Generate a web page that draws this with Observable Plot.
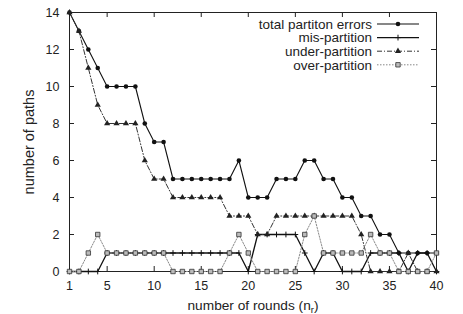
<!DOCTYPE html>
<html><head><meta charset="utf-8">
<script src="https://cdn.jsdelivr.net/npm/d3@7"></script>
<script src="https://cdn.jsdelivr.net/npm/@observablehq/plot@0.6"></script>
<style>body{margin:0;background:#fff}</style>
</head><body><div id="chart"></div>
<script>
const rounds = [1,2,3,4,5,6,7,8,9,10,11,12,13,14,15,16,17,18,19,20,21,22,23,24,25,26,27,28,29,30,31,32,33,34,35,36,37,38,39,40];
const totalErrors = [14,13,12,11,10,10,10,10,8,7,7,5,5,5,5,5,5,5,6,4,4,4,5,5,5,6,6,5,5,4,4,3,3,2,2,1,1,1,1,1];
const misPartition = [0,0,0,0,1,1,1,1,1,1,1,1,1,1,1,1,1,1,1,0,2,2,2,2,2,1,0,1,1,0,0,0,1,1,1,1,0,1,1,0];
const underPartition = [14,13,11,9,8,8,8,8,6,5,5,4,4,4,4,4,4,3,3,3,2,2,3,3,3,3,3,3,3,3,3,2,0,0,0,0,1,0,0,0];
const overPartition = [0,0,1,2,1,1,1,1,1,1,1,0,0,0,0,0,0,1,2,1,0,0,0,0,0,2,3,1,1,1,1,1,2,1,1,0,0,0,0,1];
const seriesNames = ["total partiton errors","mis-partition","under-partition","over-partition"];
const xTickValues = [5,10,15,20,25,30,35,40];
const xTickLabels = [1,5,10,15,20,25,30,35,40];
const yTickValues = [0,2,4,6,8,10,12,14];

const styles = [
  {stroke:"#111", dash:null, width:1.1, symbol:"circle", r:2.3, fill:"#111", mstroke:"none"},
  {stroke:"#111", dash:null, width:1.3, symbol:"plus", r:2.0, fill:"none", mstroke:"#111"},
  {stroke:"#333", dash:"5,2,1,2", width:1, symbol:"triangle", r:2.3, fill:"#222", mstroke:"none"},
  {stroke:"#888", dash:"1.5,1.5", width:1, symbol:"square", r:2.5, fill:"#bbb", mstroke:"#333"}
];
const seriesValues = [totalErrors, misPartition, underPartition, overPartition];
const tables = seriesValues.map((vals, s) => rounds.map((r, i) => ({round: r, value: vals[i], series: seriesNames[s]})));

const W = 463, H = 314, mL = 69, mR = 27, mT = 12, mB = 43;
const pw = W - mL - mR, ph = H - mT - mB;
const tk = 5;

const marks = [
  Plot.frame({stroke:"#222", strokeWidth:1}),
  Plot.tickX(xTickValues, {x: d => d, insetTop: ph - tk, stroke:"#222"}),
  Plot.tickX(xTickValues, {x: d => d, insetBottom: ph - tk, stroke:"#222"}),
  Plot.tickY(yTickValues, {y: d => d, insetRight: pw - tk, stroke:"#222"}),
  Plot.tickY(yTickValues, {y: d => d, insetLeft: pw - tk, stroke:"#222"}),
  Plot.axisX({ticks: xTickLabels, tickSize: 0, tickPadding: 10, fontSize: 12.5, label: "number of rounds (nr)", labelAnchor: "center", labelOffset: 38, labelArrow: "none"}),
  Plot.axisY({ticks: yTickValues, tickSize: 0, tickPadding: 10, fontSize: 12.5, label: "number of paths", labelAnchor: "center", labelOffset: 46, labelArrow: "none"})
];
tables.forEach((t, s) => {
  const st = styles[s];
  marks.push(Plot.line(t, {x: "round", y: "value", stroke: st.stroke, strokeWidth: st.width, strokeDasharray: st.dash}));
});
tables.forEach((t, s) => {
  const st = styles[s];
  marks.push(Plot.dot(t, {x: "round", y: "value", symbol: () => st.symbol, r: st.r, fill: st.fill, stroke: st.mstroke, strokeWidth: st.symbol === "plus" ? 1.0 : 0.8}));
});

const plot = Plot.plot({
  width: W, height: H, marginLeft: mL, marginRight: mR, marginTop: mT, marginBottom: mB,
  style: {fontFamily: "'Liberation Sans', Arial, sans-serif", fontSize: "12.5px", color: "#222", background: "#fff"},
  x: {domain: [1, 40]},
  y: {domain: [0, 14]},
  symbol: {type: "identity"},
  marks
});
document.getElementById("chart").appendChild(plot);

const svg = d3.select(plot);
svg.selectAll("text").each(function() {
  const t = d3.select(this);
  if (this.textContent === "number of rounds (nr)") {
    t.style("font-size", "13.7px");
    t.text(null);
    t.append("tspan").text("number of rounds (n");
    t.append("tspan").attr("dy", "3").style("font-size", "9.5px").text("r");
    t.append("tspan").attr("dy", "-3").text(")");
  } else if (this.textContent === "number of paths") {
    t.style("font-size", "14.5px");
  }
});

const lg = svg.append("g").attr("font-family", "'Liberation Sans', Arial, sans-serif").attr("font-size", "13.5px").attr("fill", "#222");
const lgY0 = 24, lgStep = 13.6, lgTextX = 372, lgX1 = 377, lgX2 = 419;
seriesNames.forEach((name, i) => {
  const st = styles[i];
  const y = lgY0 + i * lgStep;
  lg.append("text").attr("x", lgTextX).attr("y", y).attr("dy", "0.35em").attr("text-anchor", "end").text(name);
  lg.append("line").attr("x1", lgX1).attr("x2", lgX2).attr("y1", y).attr("y2", y)
    .attr("stroke", st.stroke).attr("stroke-width", st.width).attr("stroke-dasharray", st.dash);
  const symMap = {circle: d3.symbolCircle, plus: d3.symbolPlus, triangle: d3.symbolTriangle, square: d3.symbolSquare};
  lg.append("path").attr("d", d3.symbol(symMap[st.symbol], Math.PI * st.r * st.r)())
    .attr("transform", `translate(${(lgX1 + lgX2) / 2},${y})`)
    .attr("fill", st.fill).attr("stroke", st.mstroke).attr("stroke-width", st.symbol === "plus" ? 1.0 : 0.8);
});
</script>
</body></html>
